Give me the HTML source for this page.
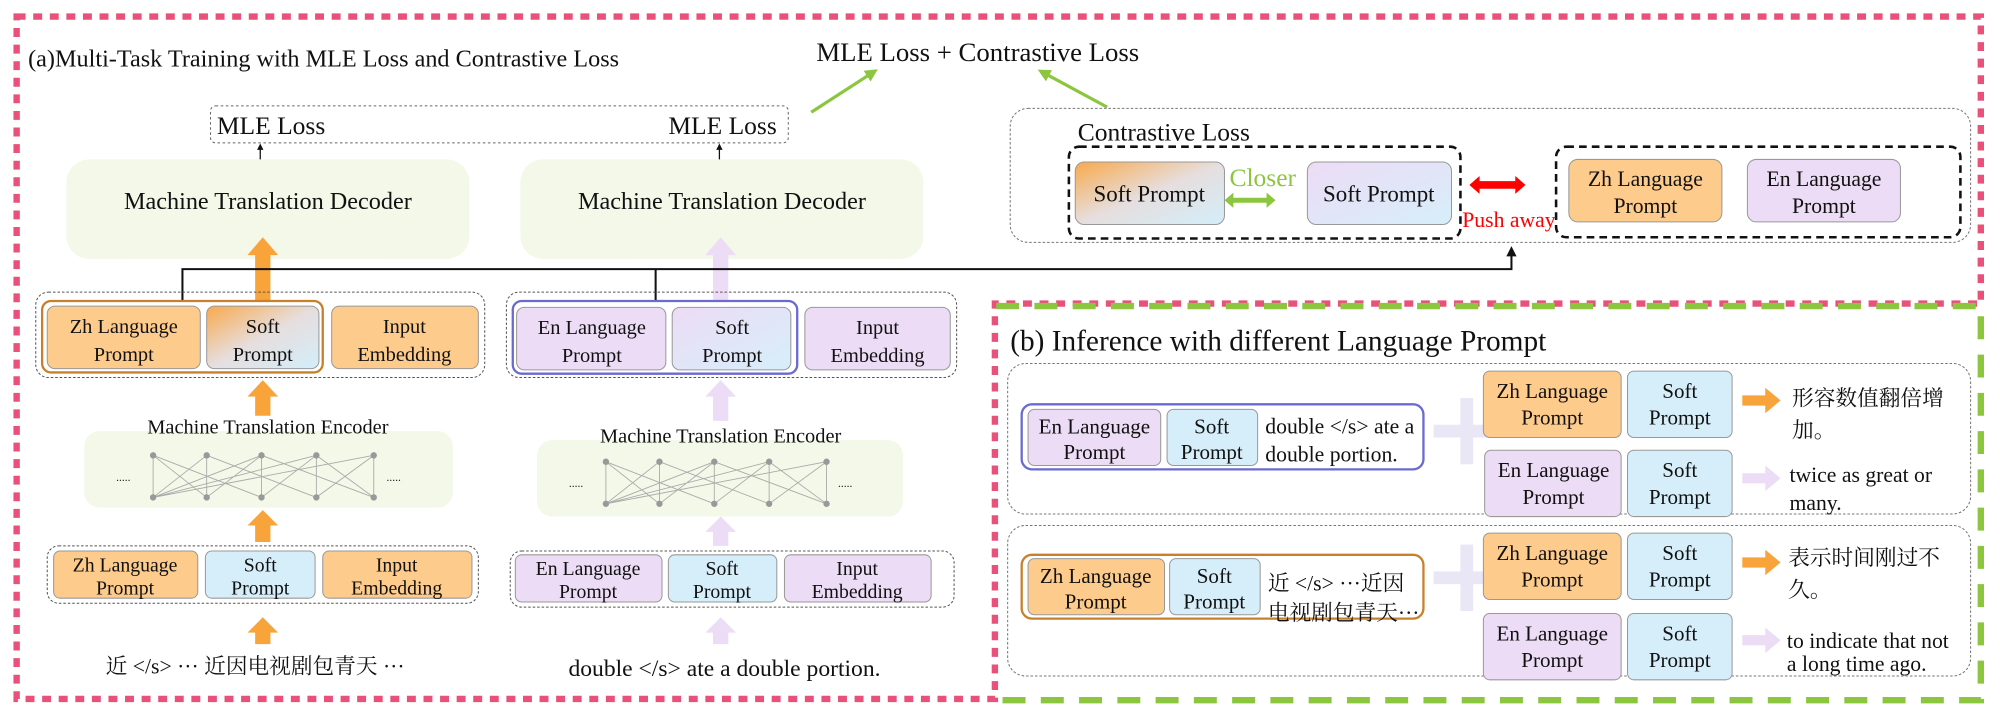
<!DOCTYPE html>
<html><head><meta charset="utf-8"><style>html,body{margin:0;padding:0;background:#fff}svg{display:block}
text{font-family:"Liberation Serif","Noto Serif CJK SC",serif;fill:#111}</style></head>
<body>
<svg width="2000" height="727" viewBox="0 0 1568 570" xmlns="http://www.w3.org/2000/svg">
<defs>
<linearGradient id="g1" x1="0" y1="0" x2="1" y2="1"><stop offset="0" stop-color="#f9a94b"/><stop offset="0.5" stop-color="#e6dede"/><stop offset="1" stop-color="#d3eefa"/></linearGradient>
<linearGradient id="g2" x1="0" y1="0" x2="1" y2="1"><stop offset="0" stop-color="#eddcf5"/><stop offset="1" stop-color="#d6eefa"/></linearGradient>
<marker id="ah" viewBox="0 0 10 10" refX="5" refY="5" markerWidth="5" markerHeight="5" orient="auto"><path d="M0,0L10,5L0,10z" fill="#111"/></marker>
<marker id="ag" viewBox="0 0 10 10" refX="5" refY="5" markerWidth="4" markerHeight="4" orient="auto"><path d="M0,0L10,5L0,10z" fill="#8cc63f"/></marker>
</defs>
<path d="M13,13 H1553 V238 H780 V548 H13 Z" fill="none" stroke="#e9507a" stroke-width="5" stroke-dasharray="7,6"/>
<path d="M781,240 H1553 V549 H781" fill="none" stroke="#8cc63f" stroke-width="5" stroke-dasharray="18,12"/>
<text x="22" y="52" font-size="19">(a)Multi-Task Training with MLE Loss and Contrastive Loss</text>
<text x="640" y="48" font-size="21">MLE Loss + Contrastive Loss</text>
<line x1="636" y1="88" x2="684" y2="57" stroke="#8cc63f" stroke-width="2.5" marker-end="url(#ag)"/>
<line x1="868" y1="84" x2="818" y2="57" stroke="#8cc63f" stroke-width="2.5" marker-end="url(#ag)"/>
<rect x="165" y="83" width="453" height="29" rx="4" fill="none" stroke="#666" stroke-width="0.8" stroke-dasharray="2,2"/>
<text x="170" y="105" font-size="20">MLE Loss</text>
<text x="524" y="105" font-size="20">MLE Loss</text>
<line x1="204" y1="127" x2="204" y2="115" stroke="#111" stroke-width="1" marker-end="url(#ah)"/>
<line x1="564" y1="127" x2="564" y2="115" stroke="#111" stroke-width="1" marker-end="url(#ah)"/>
<rect x="52" y="125" width="316" height="78" rx="18" fill="#f3f8e8"/>
<rect x="408" y="125" width="316" height="78" rx="18" fill="#f3f8e8"/>
<text x="210" y="164" font-size="19" text-anchor="middle">Machine Translation Decoder</text>
<text x="566" y="164" font-size="19" text-anchor="middle">Machine Translation Decoder</text>
<g fill="#f9a33b">
<path d="M200,238 V200 H194 L206,186 L218,200 H212 V238Z"/>
<path d="M200,326 V311 H194 L206,298 L218,311 H212 V326Z"/>
<path d="M200,425 V412 H194 L206,400 L218,412 H212 V425Z"/>
<path d="M200,505 V496 H194 L206,484 L218,496 H212 V505Z"/>
</g>
<g fill="#ecdcf5">
<path d="M559,238 V200 H553 L565,186 L577,200 H571 V238Z"/>
<path d="M559,330 V311 H553 L565,298 L577,311 H571 V330Z"/>
<path d="M559,428 V417 H553 L565,405 L577,417 H571 V428Z"/>
<path d="M559,505 V496 H553 L565,484 L577,496 H571 V505Z"/>
</g>
<path d="M143,243 V211 H1185 V197" fill="none" stroke="#111" stroke-width="1.6" marker-end="url(#ah)"/>
<line x1="514" y1="211" x2="514" y2="243" stroke="#111" stroke-width="1.6"/>
<rect x="28" y="229" width="352" height="67" rx="10" fill="none" stroke="#555" stroke-width="0.8" stroke-dasharray="2,1.5"/>
<rect x="397" y="229" width="353" height="67" rx="10" fill="none" stroke="#555" stroke-width="0.8" stroke-dasharray="2,1.5"/>
<rect x="33" y="236" width="220" height="56" rx="7" fill="#fff" stroke="#c8802a" stroke-width="1.8"/>
<rect x="402" y="236" width="223" height="57" rx="7" fill="#fff" stroke="#6a6ad0" stroke-width="1.8"/>
<g stroke="#999" stroke-width="0.8">
<rect x="37" y="240" width="120" height="49" rx="6" fill="#fdcb8c"/>
<rect x="162" y="240" width="88" height="49" rx="6" fill="url(#g1)"/>
<rect x="260" y="240" width="115" height="49" rx="6" fill="#fdcb8c"/>
<rect x="405" y="241" width="117" height="49" rx="6" fill="#ecdcf5"/>
<rect x="527" y="241" width="93" height="49" rx="6" fill="url(#g2)"/>
<rect x="631" y="241" width="114" height="49" rx="6" fill="#ecdcf5"/>
</g>
<g font-size="16" text-anchor="middle">
<text x="97" y="261">Zh Language</text><text x="97" y="283">Prompt</text>
<text x="206" y="261">Soft</text><text x="206" y="283">Prompt</text>
<text x="317" y="261">Input</text><text x="317" y="283">Embedding</text>
<text x="464" y="262">En Language</text><text x="464" y="284">Prompt</text>
<text x="574" y="262">Soft</text><text x="574" y="284">Prompt</text>
<text x="688" y="262">Input</text><text x="688" y="284">Embedding</text>
</g>
<rect x="66" y="338" width="289" height="60" rx="12" fill="#f3f8e8"/>
<rect x="421" y="345" width="287" height="60" rx="12" fill="#f3f8e8"/>
<text x="210" y="340" font-size="16" text-anchor="middle">Machine Translation Encoder</text>
<text x="565" y="347" font-size="16" text-anchor="middle">Machine Translation Encoder</text>
<g stroke="#aaa" stroke-width="0.7">
<path d="M120,357L120,390M120,357L162,390M120,357L205,390M162,357L120,390M162,357L162,390M162,357L248,390M205,357L162,390M205,357L205,390M205,357L293,390M248,357L120,390M248,357L205,390M248,357L248,390M248,357L293,390M293,357L120,390M293,357L248,390M293,357L293,390M205,357L120,390"/>
<path d="M475,362L475,395M475,362L517,395M475,362L560,395M517,362L475,395M517,362L517,395M517,362L603,395M560,362L517,395M560,362L560,395M560,362L648,395M603,362L475,395M603,362L560,395M603,362L603,395M603,362L648,395M648,362L475,395M648,362L603,395M648,362L648,395M560,362L475,395"/>
</g>
<g fill="#999">
<circle cx="120" cy="357" r="2.5"/><circle cx="162" cy="357" r="2.5"/><circle cx="205" cy="357" r="2.5"/><circle cx="248" cy="357" r="2.5"/><circle cx="293" cy="357" r="2.5"/>
<circle cx="120" cy="390" r="2.5"/><circle cx="162" cy="390" r="2.5"/><circle cx="205" cy="390" r="2.5"/><circle cx="248" cy="390" r="2.5"/><circle cx="293" cy="390" r="2.5"/>
<circle cx="475" cy="362" r="2.5"/><circle cx="517" cy="362" r="2.5"/><circle cx="560" cy="362" r="2.5"/><circle cx="603" cy="362" r="2.5"/><circle cx="648" cy="362" r="2.5"/>
<circle cx="475" cy="395" r="2.5"/><circle cx="517" cy="395" r="2.5"/><circle cx="560" cy="395" r="2.5"/><circle cx="603" cy="395" r="2.5"/><circle cx="648" cy="395" r="2.5"/>
</g>
<g font-size="9" fill="#777"><text x="91" y="377" fill="#777">.....</text><text x="303" y="377" fill="#777">.....</text><text x="446" y="382" fill="#777">.....</text><text x="657" y="382" fill="#777">.....</text></g>
<rect x="37" y="428" width="338" height="45" rx="9" fill="none" stroke="#555" stroke-width="0.8" stroke-dasharray="2,1.5"/>
<rect x="400" y="432" width="348" height="44" rx="9" fill="none" stroke="#555" stroke-width="0.8" stroke-dasharray="2,1.5"/>
<g stroke="#999" stroke-width="0.8">
<rect x="42" y="432" width="113" height="37" rx="5" fill="#fdcb8c"/>
<rect x="161" y="432" width="86" height="37" rx="5" fill="#d6eefa"/>
<rect x="253" y="432" width="117" height="37" rx="5" fill="#fdcb8c"/>
<rect x="404" y="435" width="115" height="37" rx="5" fill="#ecdcf5"/>
<rect x="524" y="435" width="85" height="37" rx="5" fill="#d6eefa"/>
<rect x="615" y="435" width="115" height="37" rx="5" fill="#ecdcf5"/>
</g>
<g font-size="15.5" text-anchor="middle">
<text x="98" y="448">Zh Language</text><text x="98" y="466">Prompt</text>
<text x="204" y="448">Soft</text><text x="204" y="466">Prompt</text>
<text x="311" y="448">Input</text><text x="311" y="466">Embedding</text>
<text x="461" y="451">En Language</text><text x="461" y="469">Prompt</text>
<text x="566" y="451">Soft</text><text x="566" y="469">Prompt</text>
<text x="672" y="451">Input</text><text x="672" y="469">Embedding</text>
</g>
<text x="200" y="528" font-size="17" text-anchor="middle">近  &lt;/s&gt; ···  近因电视剧包青天  ···</text>
<text x="568" y="530" font-size="18.5" text-anchor="middle">double &lt;/s&gt; ate a double portion.</text>
<rect x="792" y="85" width="753" height="105" rx="14" fill="none" stroke="#777" stroke-width="0.8" stroke-dasharray="2,1.5"/>
<text x="845" y="110" font-size="20">Contrastive Loss</text>
<rect x="838" y="115" width="307" height="72" rx="8" fill="none" stroke="#111" stroke-width="2" stroke-dasharray="6,4"/>
<rect x="1220" y="115" width="317" height="71" rx="8" fill="none" stroke="#111" stroke-width="2" stroke-dasharray="6,4"/>
<rect x="843" y="127" width="117" height="49" rx="7" fill="url(#g1)" stroke="#999" stroke-width="0.8"/>
<rect x="1025" y="127" width="113" height="49" rx="7" fill="url(#g2)" stroke="#999" stroke-width="0.8"/>
<text x="901" y="158" font-size="18" text-anchor="middle">Soft Prompt</text>
<text x="1081" y="158" font-size="18" text-anchor="middle">Soft Prompt</text>
<text x="990" y="146" font-size="20" text-anchor="middle" style="fill:#8cc63f">Closer</text>
<path d="M960,157 L967,151 V155 H993 V151 L1000,157 L993,163 V159 H967 V163Z" fill="#8cc63f"/>
<path d="M1152,145 L1160,138 V142 H1188 V138 L1196,145 L1188,152 V148 H1160 V152Z" fill="#f00"/>
<text x="1183" y="178" font-size="17" text-anchor="middle" style="fill:#f00">Push away</text>
<rect x="1230" y="125" width="120" height="49" rx="7" fill="#fdcb8c" stroke="#999" stroke-width="0.8"/>
<rect x="1370" y="125" width="120" height="49" rx="7" fill="#ecdcf5" stroke="#999" stroke-width="0.8"/>
<g font-size="17" text-anchor="middle">
<text x="1290" y="146">Zh Language</text><text x="1290" y="167">Prompt</text>
<text x="1430" y="146">En Language</text><text x="1430" y="167">Prompt</text>
</g>
<text x="792" y="275" font-size="23">(b) Inference with different Language Prompt</text>
<rect x="790" y="285" width="755" height="118" rx="14" fill="none" stroke="#777" stroke-width="0.8" stroke-dasharray="2,1.5"/>
<rect x="790" y="412" width="755" height="118" rx="14" fill="none" stroke="#777" stroke-width="0.8" stroke-dasharray="2,1.5"/>
<rect x="801" y="317" width="315" height="51" rx="8" fill="#fff" stroke="#6a6ad0" stroke-width="1.8"/>
<rect x="801" y="435" width="315" height="50" rx="8" fill="#fff" stroke="#c8802a" stroke-width="1.8"/>
<g fill="#e9e6f6">
<rect x="1145" y="312" width="10" height="52"/><rect x="1124" y="333" width="52" height="10"/>
<rect x="1145" y="427" width="10" height="52"/><rect x="1124" y="448" width="52" height="10"/>
</g>
<g stroke="#999" stroke-width="0.8">
<rect x="806" y="321" width="104" height="44" rx="5" fill="#ecdcf5"/>
<rect x="915" y="321" width="71" height="44" rx="5" fill="#d6eefa"/>
<rect x="806" y="438" width="107" height="44" rx="5" fill="#fdcb8c"/>
<rect x="917" y="438" width="71" height="44" rx="5" fill="#d6eefa"/>
<rect x="1163" y="291" width="108" height="52" rx="5" fill="#fdcb8c"/>
<rect x="1276" y="291" width="82" height="52" rx="5" fill="#d6eefa"/>
<rect x="1164" y="353" width="107" height="52" rx="5" fill="#ecdcf5"/>
<rect x="1276" y="353" width="82" height="52" rx="5" fill="#d6eefa"/>
<rect x="1163" y="418" width="108" height="52" rx="5" fill="#fdcb8c"/>
<rect x="1276" y="418" width="82" height="52" rx="5" fill="#d6eefa"/>
<rect x="1163" y="481" width="108" height="52" rx="5" fill="#ecdcf5"/>
<rect x="1276" y="481" width="82" height="52" rx="5" fill="#d6eefa"/>
</g>
<g font-size="16.5" text-anchor="middle">
<text x="858" y="340">En Language</text><text x="858" y="360">Prompt</text>
<text x="950" y="340">Soft</text><text x="950" y="360">Prompt</text>
<text x="859" y="457">Zh Language</text><text x="859" y="477">Prompt</text>
<text x="952" y="457">Soft</text><text x="952" y="477">Prompt</text>
<text x="1217" y="312">Zh Language</text><text x="1217" y="333">Prompt</text>
<text x="1317" y="312">Soft</text><text x="1317" y="333">Prompt</text>
<text x="1218" y="374">En Language</text><text x="1218" y="395">Prompt</text>
<text x="1317" y="374">Soft</text><text x="1317" y="395">Prompt</text>
<text x="1217" y="439">Zh Language</text><text x="1217" y="460">Prompt</text>
<text x="1317" y="439">Soft</text><text x="1317" y="460">Prompt</text>
<text x="1217" y="502">En Language</text><text x="1217" y="523">Prompt</text>
<text x="1317" y="502">Soft</text><text x="1317" y="523">Prompt</text>
</g>
<g font-size="17">
<text x="992" y="340">double &lt;/s&gt; ate a</text><text x="992" y="362">double portion.</text>
<text x="994" y="463">近 &lt;/s&gt; ···近因</text><text x="994" y="486">电视剧包青天···</text>
<text x="1405" y="318">形容数值翻倍增</text><text x="1405" y="343">加。</text>
<text x="1403" y="378">twice as great or</text><text x="1403" y="400">many.</text>
<text x="1402" y="443">表示时间刚过不</text><text x="1402" y="468">久。</text>
<text x="1401" y="508">to indicate that not</text><text x="1401" y="526">a long time ago.</text>
</g>
<path d="M1366,310 H1384 V304 L1396,314 L1384,324 V318 H1366Z" fill="#f9a33b"/>
<path d="M1366,437 H1384 V431 L1396,441 L1384,451 V445 H1366Z" fill="#f9a33b"/>
<path d="M1366,371 H1384 V365 L1396,375 L1384,385 V379 H1366Z" fill="#ecdcf5"/>
<path d="M1366,498 H1384 V492 L1396,502 L1384,512 V506 H1366Z" fill="#ecdcf5"/>
</svg>
</body></html>
